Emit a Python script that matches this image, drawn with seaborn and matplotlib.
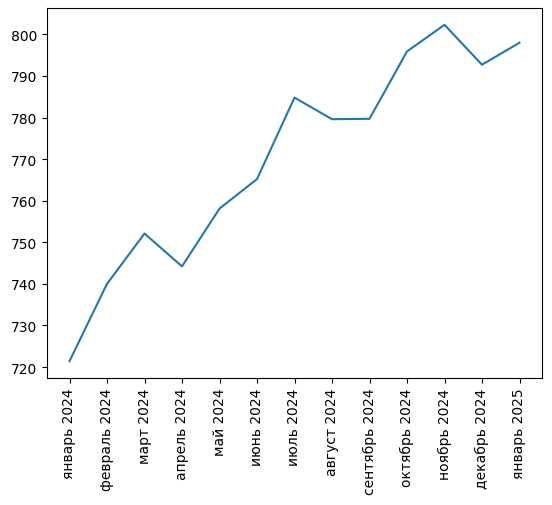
import pandas as pd
import matplotlib
matplotlib.use('Agg')
import matplotlib.pyplot as plt
import seaborn as sns

# Данные по месяцам
months = ['январь 2024', 'февраль 2024', 'март 2024', 'апрель 2024', 'май 2024',
          'июнь 2024', 'июль 2024', 'август 2024', 'сентябрь 2024', 'октябрь 2024',
          'ноябрь 2024', 'декабрь 2024', 'январь 2025']
values = [721.4, 740.0, 752.1, 744.2, 758.1, 765.2, 784.8, 779.6, 779.7, 795.9,
          802.3, 792.7, 798.0]

data = pd.DataFrame({'month': months, 'value': values})

fig = plt.figure(figsize=(5.52, 5.06), dpi=100)
ax = fig.add_axes([47 / 552, 1 - 379 / 506, (542 - 47) / 552, (379 - 9) / 506])
sns.lineplot(x='month', y='value', data=data, ax=ax, sort=False)
ax.set_xlabel('')
ax.set_ylabel('')
ax.tick_params(axis='x', labelrotation=90)
fig.savefig('out.png', dpi=100)
